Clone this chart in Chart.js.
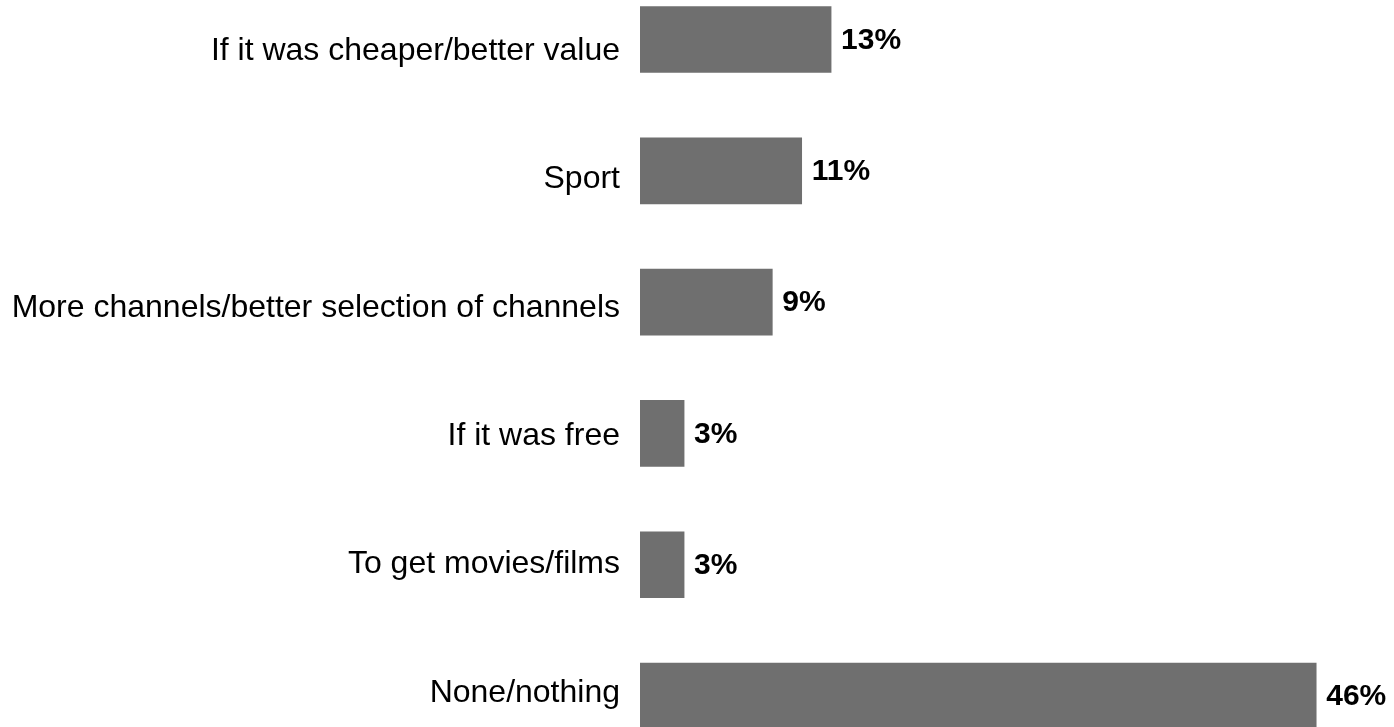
<!DOCTYPE html>
<html>
<head>
<meta charset="utf-8">
<script src="https://cdn.jsdelivr.net/npm/chart.js@4/dist/chart.umd.min.js"></script>
<style>
  html, body { margin: 0; padding: 0; background: #fff; overflow: hidden; }
  #wrap { position: absolute; left: 0; top: -13px; width: 1394px; height: 770px; }
</style>
</head>
<body>
<div id="wrap"><canvas id="chart" width="1394" height="770"></canvas></div>
<script>
// Survey answers and their shares (percent)
const categories = [
  "If it was cheaper/better value",
  "Sport",
  "More channels/better selection of channels",
  "If it was free",
  "To get movies/films",
  "None/nothing"
];
const shares = [13, 11, 9, 3, 3, 46];

// Bars sit on a numeric row axis (row index -> share)
const barPoints = shares.map((v, i) => ({ x: v, y: i }));

// Writes the percentage just past the end of each bar
const valueLabels = {
  id: "valueLabels",
  afterDatasetsDraw(chart) {
    const ctx = chart.ctx;
    const meta = chart.getDatasetMeta(0);
    ctx.save();
    ctx.font = "bold 30px 'Liberation Sans', Arial, sans-serif";
    ctx.fillStyle = "#000";
    ctx.textAlign = "left";
    ctx.textBaseline = "middle";
    meta.data.forEach((bar, i) => {
      ctx.fillText(shares[i] + "%", bar.x + 10, bar.y + 1);
    });
    ctx.restore();
  }
};

new Chart(document.getElementById("chart"), {
  type: "bar",
  data: {
    labels: categories,
    datasets: [{
      data: barPoints,
      yAxisID: "rows",
      backgroundColor: "#6f6f6f",
      borderWidth: 0,
      barThickness: 66
    }]
  },
  options: {
    indexAxis: "y",
    responsive: false,
    animation: false,
    events: [],
    layout: { padding: { left: 0, right: 19, top: 0, bottom: 0 } },
    plugins: { legend: { display: false }, tooltip: { enabled: false } },
    scales: {
      x: {
        display: false,
        min: 0,
        max: 50
      },
      rows: {
        type: "linear",
        position: "left",
        display: false,
        offset: false,
        reverse: true,
        min: -0.4,
        max: 5.4644
      },
      y: {
        type: "category",
        position: "left",
        border: { display: false },
        grid: { display: false, drawTicks: false },
        ticks: {
          padding: 20,
          color: "#000",
          font: { family: "'Liberation Sans', Arial, sans-serif", size: 32 }
        },
        afterFit(scale) {
          // fixed label column; rows run edge to edge of the canvas
          scale.width = 640;
          scale.paddingTop = 0;
          scale.paddingBottom = 0;
        }
      }
    }
  },
  plugins: [valueLabels]
});
</script>
</body>
</html>
